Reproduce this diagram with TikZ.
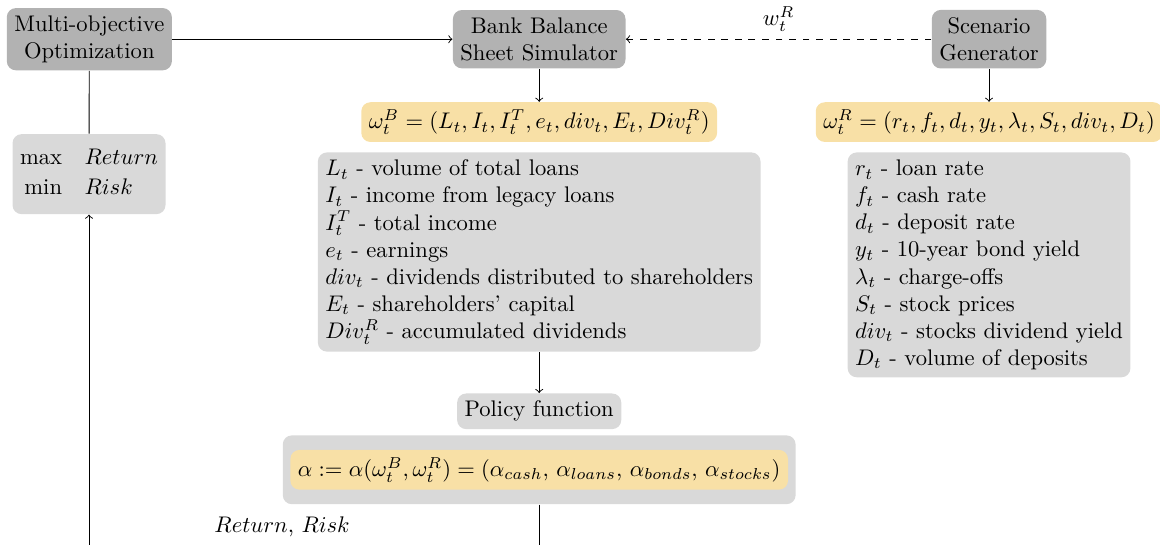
\documentclass[tikz,border=0pt]{standalone}
\usepackage{amsmath}
\definecolor{stateyellow}{RGB}{248,224,166}

\begin{document}
\begin{tikzpicture}[
  darkbox/.style={fill=gray!60, rounded corners, align=center},
  lightbox/.style={fill=gray!30, rounded corners},
  statebox/.style={fill=stateyellow, rounded corners}]
\useasboundingbox (0,0) rectangle (18.05,-8.465);

\node[darkbox] (moo) at (1.39,-0.61) {Multi-objective\\Optimization};
\node[darkbox] (bbss) at (8.39,-0.61) {Bank Balance\\Sheet Simulator};
\node[darkbox] (sg) at (15.39,-0.61) {Scenario\\Generator};

\node[statebox] (omegab) at (8.39,-1.90) {$\omega_t^B = (L_t, I_t, I_t^T, e_t, div_t, E_t, Div_t^R)$};
\node[statebox] (omegar) at (15.39,-1.90) {$\omega_t^R = (r_t, f_t, d_t, y_t, \lambda_t, S_t, div_t, D_t)$};

\node[lightbox, align=left, anchor=north] (legb) at (8.39,-2.365) {%
$L_t$ - volume of total loans\\
$I_t$ - income from legacy loans\\
$I_t^T$ - total income\\
$e_t$ - earnings\\
$div_t$ - dividends distributed to shareholders\\
$E_t$ - shareholders' capital\\
$Div_t^R$ - accumulated dividends};

\node[lightbox, align=left, anchor=north] (legr) at (15.39,-2.365) {%
$r_t$ - loan rate\\
$f_t$ - cash rate\\
$d_t$ - deposit rate\\
$y_t$ - 10-year bond yield\\
$\lambda_t$ - charge-offs\\
$S_t$ - stock prices\\
$div_t$ - stocks dividend yield\\
$D_t$ - volume of deposits};

\node[lightbox] (pol) at (8.39,-6.40) {Policy function};
\node[lightbox, minimum width=7.98cm, minimum height=1.07cm] (alphaouter) at (8.39,-7.31) {};
\node[statebox] (alpha) at (8.39,-7.31) {$\alpha := \alpha(\omega_t^B, \omega_t^R) = (\alpha_{cash},\, \alpha_{loans},\, \alpha_{bonds},\, \alpha_{stocks})$};

\node[lightbox, inner ysep=5.2pt] (mm) at (1.385,-2.71) {\begin{tabular}{@{}r@{\hspace{10pt}}l@{}}max & $Return$\\[1pt] min & $Risk$\end{tabular}};

\node (retrisk) at (4.39,-8.20) {$Return$, $Risk$};
\coordinate (turn) at (8.39,-8.8);

\draw[->] (moo) -- (bbss);
\draw[->, dashed] (sg) -- node[above] {$w_t^R$} (bbss);
\draw[->] (bbss) -- (omegab);
\draw[->] (sg) -- (omegar);
\draw[->] (legb) -- (pol);
\draw (moo) -- (mm);
\draw[->] (alphaouter) -- (turn) -| (mm);
\end{tikzpicture}
\end{document}
